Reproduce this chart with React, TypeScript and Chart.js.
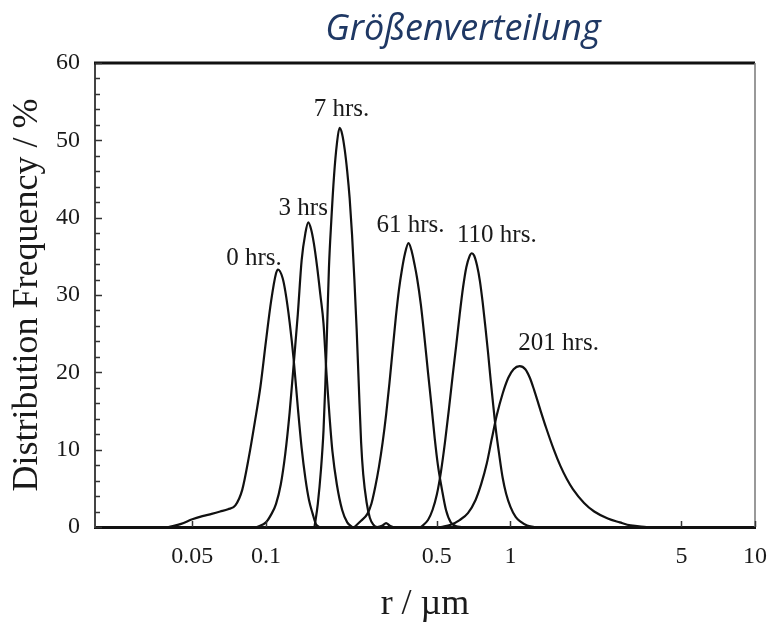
import { useEffect, useRef } from "react";
import { Chart, registerables } from "chart.js";

Chart.register(...registerables);

// Particle radius (µm) and distribution frequency (%) for each ageing time
const SERIES_NAMES = ["0 hrs.", "3 hrs", "7 hrs.", "61 hrs.", "110 hrs.", "201 hrs."];

const R_0H = [0.04, 0.045, 0.05, 0.055, 0.06, 0.065, 0.07, 0.075, 0.08, 0.085, 0.09, 0.095, 0.1, 0.105, 0.11, 0.112, 0.117, 0.12, 0.125, 0.13, 0.135, 0.14, 0.145, 0.15, 0.155, 0.16, 0.165];
const F_0H = [0, 0.4, 1.0, 1.4, 1.7, 2.0, 2.3, 2.8, 4.8, 8.9, 13.5, 18.2, 24.0, 29.2, 32.8, 33.3, 32.2, 30.5, 26.5, 21.5, 15.5, 10.2, 6.3, 3.5, 1.8, 0.4, 0];

const R_3H = [0.092, 0.1, 0.105, 0.11, 0.115, 0.12, 0.125, 0.13, 0.135, 0.14, 0.145, 0.149, 0.153, 0.157, 0.162, 0.167, 0.172, 0.177, 0.182, 0.187, 0.195, 0.205, 0.215, 0.225];
const F_3H = [0, 0.6, 1.6, 3.0, 5.5, 9.5, 14.8, 21.2, 27.5, 34.5, 38.0, 39.4, 38.5, 36.7, 33.6, 30.0, 26.3, 19.7, 14.3, 9.8, 5.5, 2.2, 0.6, 0];

const R_7H = [0.158, 0.163, 0.168, 0.172, 0.175, 0.178, 0.181, 0.185, 0.19, 0.195, 0.2, 0.205, 0.21, 0.215, 0.22, 0.225, 0.23, 0.235, 0.24, 0.245, 0.25, 0.258, 0.266, 0.275, 0.285, 0.3, 0.31, 0.32, 0.33];
const F_7H = [0, 3.0, 7.5, 12.5, 18.5, 26.0, 33.5, 39.5, 45.5, 49.5, 51.6, 50.8, 48.8, 46.0, 42.5, 37.8, 32.0, 25.5, 18.0, 11.0, 6.8, 3.2, 1.2, 0.3, 0, 0.2, 0.5, 0.2, 0];

const R_61H = [0.23, 0.245, 0.26, 0.27, 0.28, 0.29, 0.3, 0.31, 0.32, 0.33, 0.34, 0.35, 0.36, 0.37, 0.383, 0.395, 0.405, 0.415, 0.43, 0.445, 0.46, 0.475, 0.49, 0.505, 0.525, 0.545, 0.57, 0.6, 0.63];
const F_61H = [0, 0.8, 1.7, 3.0, 5.2, 7.8, 10.9, 14.5, 18.6, 23.0, 27.2, 30.7, 33.3, 35.3, 36.7, 35.6, 34.0, 32.2, 28.8, 24.5, 20.0, 15.8, 11.5, 8.0, 4.8, 2.2, 0.6, 0.1, 0];

const R_110H = [0.43, 0.46, 0.48, 0.5, 0.52, 0.54, 0.56, 0.58, 0.6, 0.62, 0.64, 0.66, 0.68, 0.695, 0.71, 0.73, 0.75, 0.77, 0.79, 0.81, 0.83, 0.85, 0.87, 0.9, 0.93, 0.96, 1.0, 1.05, 1.1, 1.17, 1.25];
const F_110H = [0, 0.9, 2.2, 4.2, 7.2, 11.0, 15.2, 19.5, 23.5, 27.5, 31.0, 33.6, 35.0, 35.4, 35.1, 33.8, 31.8, 29.0, 25.8, 22.5, 19.0, 15.8, 12.8, 9.3, 6.3, 4.3, 2.6, 1.3, 0.7, 0.2, 0];

const R_201H = [0.52, 0.57, 0.62, 0.67, 0.72, 0.76, 0.8, 0.84, 0.88, 0.93, 0.98, 1.03, 1.09, 1.15, 1.2, 1.25, 1.32, 1.4, 1.5, 1.6, 1.7, 1.8, 2.0, 2.2, 2.5, 2.8, 3.1, 3.6];
const F_201H = [0, 0.3, 0.9, 1.8, 3.5, 5.6, 8.2, 11.5, 14.5, 17.3, 19.3, 20.4, 20.8, 20.4, 19.3, 17.7, 15.3, 12.8, 10.1, 7.9, 6.2, 4.9, 3.1, 2.0, 1.1, 0.6, 0.2, 0];

const SERIES_R = [R_0H, R_3H, R_7H, R_61H, R_110H, R_201H];
const SERIES_F = [F_0H, F_3H, F_7H, F_61H, F_110H, F_201H];

const X_TICKS = [0.05, 0.1, 0.5, 1, 5, 10];
const X_MIN = 0.02;
const X_MAX = 10;
const Y_MIN = 0;
const Y_MAX = 60;
const Y_STEP = 10;
const Y_MINOR_STEP = 2;

const TITLE = "Größenverteilung";
const X_TITLE = "r / µm";
const Y_TITLE = "Distribution Frequency / %";

const SERIF = "'Liberation Serif', 'Times New Roman', serif";
const INK = "#1a1a1a";

// label placement relative to each curve's peak (pixels): [dx to text centre, dy to baseline]
const LABEL_OFFSETS: [number, number][] = [
  [-24, -4.5],
  [-5, -7.5],
  [2, -11.5],
  [2, -11.5],
  [25, -11.5],
  [39, -16],
];

const decorPlugin = {
  id: "decor",
  afterDraw(chart: any) {
    const { ctx, chartArea, scales } = chart;
    const { left, right, top, bottom } = chartArea;
    const xs = scales.x;
    const ys = scales.y;
    ctx.save();

    // upper frame line and right frame line
    ctx.strokeStyle = "#111";
    ctx.lineWidth = 3;
    ctx.beginPath();
    ctx.moveTo(left - 1, top);
    ctx.lineTo(right, top);
    ctx.stroke();
    ctx.strokeStyle = "#777";
    ctx.lineWidth = 1.5;
    ctx.beginPath();
    ctx.moveTo(right, top);
    ctx.lineTo(right, bottom);
    ctx.stroke();

    // inward tick marks
    ctx.strokeStyle = "#333";
    ctx.lineWidth = 1.5;
    for (let v = Y_MIN; v <= Y_MAX; v += Y_MINOR_STEP) {
      const y = Math.round(ys.getPixelForValue(v)) + 0.5;
      const len = v % Y_STEP === 0 ? 7 : 5;
      ctx.beginPath();
      ctx.moveTo(left, y);
      ctx.lineTo(left + len, y);
      ctx.stroke();
    }
    for (const t of X_TICKS) {
      const x = Math.round(xs.getPixelForValue(t)) + 0.5;
      ctx.beginPath();
      ctx.moveTo(x, bottom);
      ctx.lineTo(x, bottom - 6);
      ctx.stroke();
    }

    // series labels above each peak
    ctx.fillStyle = INK;
    ctx.font = `25px ${SERIF}`;
    ctx.textAlign = "center";
    ctx.textBaseline = "alphabetic";
    chart.data.datasets.forEach((ds: any, i: number) => {
      const meta = chart.getDatasetMeta(i);
      let best = 0;
      ds.data.forEach((p: any, j: number) => {
        if (p.y > ds.data[best].y) best = j;
      });
      const pt = meta.data[best];
      const [dx, dy] = LABEL_OFFSETS[i];
      ctx.fillText(ds.label, pt.x + dx, pt.y + dy);
    });

    // chart title
    ctx.fillStyle = "#1f3864";
    ctx.font = `italic 36px 'Open Sans', 'Noto Sans', sans-serif`;
    ctx.textAlign = "center";
    ctx.fillText(TITLE, 463, 40);
    ctx.restore();
  },
};

export default function App() {
  const canvasRef = useRef<HTMLCanvasElement | null>(null);

  useEffect(() => {
    const canvas = canvasRef.current;
    if (!canvas) return;
    const datasets = SERIES_NAMES.map((name, i) => ({
      label: name,
      data: SERIES_R[i].map((r, j) => ({ x: r, y: SERIES_F[i][j] })),
      borderColor: "#111",
      borderWidth: 2.2,
      pointRadius: 0,
      fill: false,
      cubicInterpolationMode: "monotone" as const,
    }));

    const chart = new Chart(canvas, {
      type: "line",
      data: { datasets },
      plugins: [decorPlugin],
      options: {
        animation: false,
        responsive: true,
        maintainAspectRatio: false,
        layout: { padding: { top: 63, right: 15, left: 0, bottom: 0 } },
        plugins: {
          legend: { display: false },
          tooltip: { enabled: false },
          title: { display: false },
        },
        scales: {
          x: {
            type: "logarithmic",
            min: X_MIN,
            max: X_MAX,
            afterBuildTicks: (s: any) => {
              s.ticks = X_TICKS.map((v) => ({ value: v }));
            },
            afterFit: (s: any) => {
              s.height = 96;
              s.paddingLeft = 0;
              s.paddingRight = 0;
            },
            grid: { display: false, drawTicks: false },
            border: { display: true, color: "#111", width: 3 },
            ticks: {
              autoSkip: false,
              maxRotation: 0,
              padding: 15,
              color: INK,
              font: { family: SERIF, size: 24 },
              callback: (v: any) => String(v),
            },
            title: {
              display: true,
              text: X_TITLE,
              color: INK,
              font: { family: SERIF, size: 36, lineHeight: 1 },
              padding: { top: 0, bottom: 0 },
            },
          },
          y: {
            type: "linear",
            min: Y_MIN,
            max: Y_MAX,
            afterFit: (s: any) => {
              s.width = 95;
              s.paddingTop = 0;
              s.paddingBottom = 0;
            },
            grid: { display: false, drawTicks: false },
            border: { display: true, color: "#444", width: 2 },
            ticks: {
              stepSize: Y_STEP,
              padding: 15,
              color: INK,
              font: { family: SERIF, size: 24 },
            },
            title: {
              display: true,
              text: Y_TITLE,
              color: INK,
              font: { family: SERIF, size: 36, lineHeight: 1 },
              padding: { top: 10, bottom: 0 },
            },
          },
        },
      },
    });
    return () => chart.destroy();
  }, []);

  return (
    <div style={{ position: "absolute", left: 0, top: 0, width: 770, height: 623, background: "#fff" }}>
      <canvas ref={canvasRef} />
    </div>
  );
}
